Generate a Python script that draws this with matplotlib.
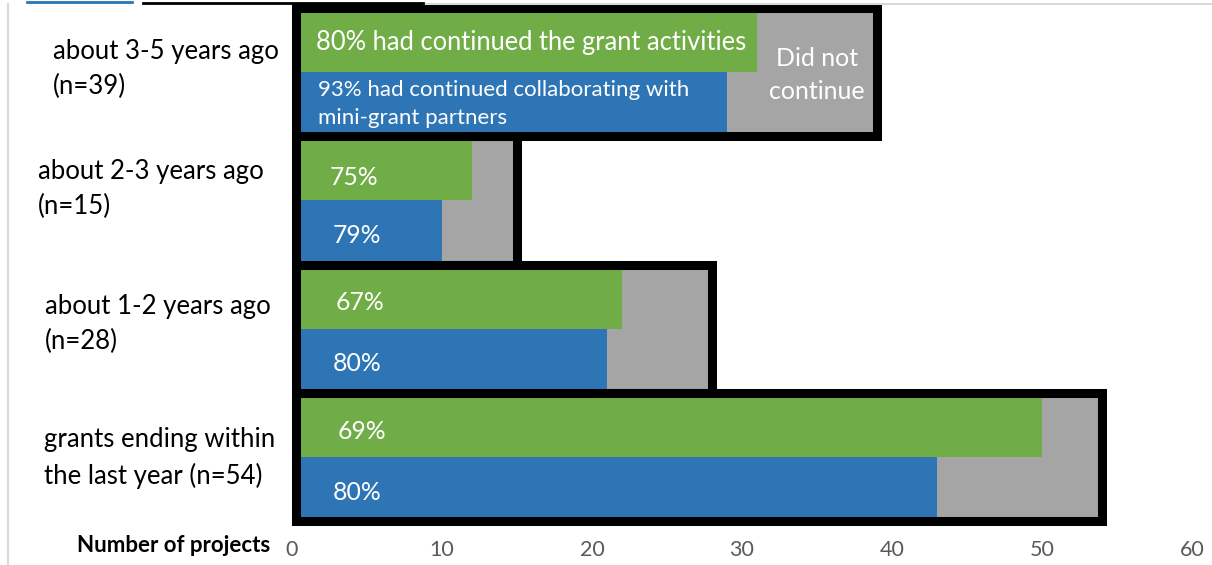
import matplotlib
matplotlib.use("Agg")
import matplotlib.pyplot as plt
from matplotlib.patches import Rectangle
from matplotlib.lines import Line2D
import matplotlib.transforms as mtransforms

plt.rcParams['font.family'] = ['Lato', 'DejaVu Sans']

# ---- data ----
categories = ["about 3-5 years ago\n(n=39)",
              "about 2-3 years ago\n(n=15)",
              "about 1-2 years ago\n(n=28)",
              "grants ending within\nthe last year (n=54)"]
n_total = [39, 15, 28, 54]
continued_activities = [31, 12, 22, 50]
continued_collab = [29, 10, 21, 43]
label_activities = ["80% had continued the grant activities", "75%", "67%", "69%"]
label_collab = ["93% had continued collaborating with\nmini-grant partners", "79%", "80%", "80%"]
xticks = [0, 10, 20, 30, 40, 50, 60]

GREEN = "#70AD47"
BLUE = "#2E75B6"
GRAY = "#A5A5A5"

W, H = 1212, 565
fig = plt.figure(figsize=(W / 100, H / 100), dpi=100)
ax = fig.add_axes([292 / W, 1 - 521 / H, 900 / W, 513 / H])
ax.set_xlim(0, 60)
ax.set_ylim(8, 0)

yg = [2 * g + 0.5 for g in range(len(categories))]
yb = [2 * g + 1.5 for g in range(len(categories))]

ax.barh(yg, continued_activities, height=1.0, color=GREEN, linewidth=0, zorder=2)
ax.barh(yg, [n - v for n, v in zip(n_total, continued_activities)],
        left=continued_activities, height=1.0, color=GRAY, linewidth=0, zorder=2)
ax.barh(yb, continued_collab, height=1.0, color=BLUE, linewidth=0, zorder=2)
ax.barh(yb, [n - v for n, v in zip(n_total, continued_collab)],
        left=continued_collab, height=1.0, color=GRAY, linewidth=0, zorder=2)

# black boxes round each group
for g, n in enumerate(n_total):
    ax.add_patch(Rectangle((0.25, 2 * g), n - 0.25, 2, fill=False,
                           edgecolor="black", linewidth=6.5, joinstyle="miter",
                           clip_on=False, zorder=4))

# bar labels
act_x = [1.6, 2.5, 2.9, 3.05]
act_dy = [0.04, 0.15, 0.1, 0.1]
col_x = [1.75, 2.7, 2.7, 2.7]
for g in range(len(categories)):
    fs = 18.4 if g == 0 else 17.8
    ax.text(act_x[g], yg[g] + act_dy[g], label_activities[g], color="white",
            fontsize=fs, ha="left", va="center", zorder=5)
    ax.text(col_x[g], yb[g] + (0.05 if g else 0.0), label_collab[g], color="white",
            fontsize=16 if g == 0 else 17.8, ha="left", va="center",
            linespacing=1.53, zorder=5)
ax.text(35, 1.05, "Did not\ncontinue", color="white", fontsize=18,
        ha="center", va="center", linespacing=1.52, zorder=5)

# category labels
trans = mtransforms.blended_transform_factory(fig.transFigure, ax.transData)
cat_x = [53, 38, 45, 44]
cat_dy = [-0.05, -0.18, -0.07, 0.02]
for g, lab in enumerate(categories):
    ax.text(cat_x[g] / W, 2 * g + 1 + cat_dy[g], lab, transform=trans,
            fontsize=18.5, ha="left", va="center", linespacing=1.5, color="black")

# axes styling
for s in ax.spines.values():
    s.set_visible(False)
ax.set_yticks([])
ax.set_xticks(xticks)
ax.set_xticklabels([str(t) for t in xticks])
ax.tick_params(axis="x", length=0, pad=14, labelsize=15.5, labelcolor="#595959")

fig.text(270 / W, 1 - 545 / H, "Number of projects", fontsize=16,
         fontweight="bold", ha="right", va="center")

# chart-area border and remnants of the text above
fig.add_artist(Line2D([7.5 / W, 7.5 / W], [0, 1 - 4 / H], color="#D9D9D9",
                      linewidth=1.5, transform=fig.transFigure))
fig.add_artist(Line2D([423 / W, 1], [1 - 4 / H, 1 - 4 / H], color="#D9D9D9",
                      linewidth=1.5, transform=fig.transFigure))
fig.add_artist(Line2D([27 / W, 132 / W], [1 - 2 / H, 1 - 2 / H], color="#2E75B6",
                      linewidth=2, transform=fig.transFigure))
fig.add_artist(Line2D([143 / W, 423 / W], [1 - 2.5 / H, 1 - 2.5 / H], color="black",
                      linewidth=2, transform=fig.transFigure))

fig.savefig("out.png", dpi=100)
